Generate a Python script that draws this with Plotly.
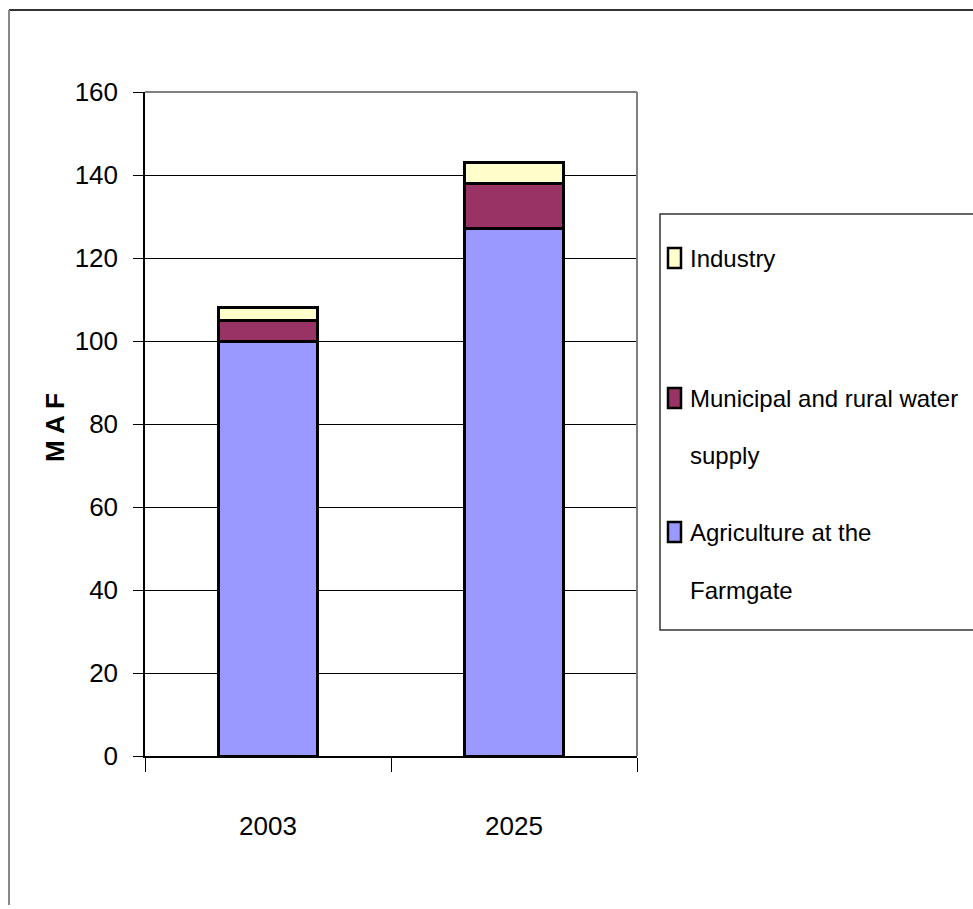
import plotly.graph_objects as go

# ---- data ----
years = ["2003", "2025"]
agriculture = [100, 127]
municipal = [5, 11]
industry = [3, 5]
series_names = ["Agriculture at the Farmgate", "Municipal and rural water supply", "Industry"]
legend_lines = [["Agriculture at the", "Farmgate"], ["Municipal and rural water", "supply"], ["Industry"]]
y_ticks = [0, 20, 40, 60, 80, 100, 120, 140, 160]
y_title = "M A F"

# ---- style ----
colors = ["#9999FF", "#993366", "#FFFFCC"]
FONT = "Liberation Sans, Arial, sans-serif"
W, H = 973, 909
L, R, T, B = 145, 637, 92, 756  # plot area in pixels


def px_x(p):
    return (p - L) / (R - L)


def px_y(p):
    return (B - p) / (B - T)


fig = go.Figure()
for vals, name, col in zip([agriculture, municipal, industry], series_names, colors):
    fig.add_trace(go.Bar(
        x=years, y=vals, name=name, width=0.4,
        marker=dict(color=col, line=dict(color="black", width=3)),
        showlegend=False,
    ))

shapes = []
annotations = []

# plot-area top and right grey border
shapes.append(dict(type="line", xref="paper", yref="paper", x0=0, x1=1, y0=1, y1=1,
                   line=dict(color="#808080", width=2)))
shapes.append(dict(type="line", xref="paper", yref="paper", x0=1, x1=1, y0=0, y1=1,
                   line=dict(color="#808080", width=2)))

# outer chart frame
shapes.append(dict(type="line", xref="paper", yref="paper", x0=px_x(9), x1=px_x(990),
                   y0=px_y(10), y1=px_y(10), line=dict(color="#333333", width=2)))
shapes.append(dict(type="line", xref="paper", yref="paper", x0=px_x(9), x1=px_x(9),
                   y0=px_y(10), y1=px_y(905), line=dict(color="#888888", width=2)))

# legend box
shapes.append(dict(type="rect", xref="paper", yref="paper", x0=px_x(660), x1=px_x(1000),
                   y0=px_y(630), y1=px_y(214), line=dict(color="#333333", width=1.5),
                   fillcolor="white"))

legend_y = {"Industry": [258], "Municipal and rural water supply": [398, 455],
            "Agriculture at the Farmgate": [532, 590]}
for name, lines, col in zip(series_names, legend_lines, colors):
    ys = legend_y[name]
    shapes.append(dict(type="rect", xref="paper", yref="paper",
                       x0=px_x(668), x1=px_x(681), y0=px_y(ys[0] + 10), y1=px_y(ys[0] - 10),
                       fillcolor=col, line=dict(color="black", width=2.5)))
    for txt, yy in zip(lines, ys):
        annotations.append(dict(text=txt, xref="paper", yref="paper", x=px_x(688), y=px_y(yy),
                                xanchor="left", yanchor="middle", showarrow=False,
                                font=dict(family=FONT, size=24, color="black")))

# y-axis title
annotations.append(dict(text="<b>" + y_title + "</b>", xref="paper", yref="paper",
                        x=px_x(55), y=px_y(428), textangle=-90, showarrow=False,
                        xanchor="center", yanchor="middle",
                        font=dict(family=FONT, size=26, color="black")))

fig.update_layout(
    width=W, height=H,
    margin=dict(l=L, r=W - R, t=T, b=H - B, autoexpand=False),
    paper_bgcolor="white", plot_bgcolor="white",
    barmode="stack", bargap=0.6,
    shapes=shapes, annotations=annotations,
    font=dict(family=FONT, size=26, color="black"),
    xaxis=dict(showline=True, linecolor="black", linewidth=1.5, ticks="outside",
               tickson="boundaries", ticklen=14, tickcolor="black", tickwidth=1,
               ticklabelstandoff=46, showgrid=False, tickfont=dict(family=FONT, size=26)),
    yaxis=dict(range=[0, 160], tickvals=y_ticks, showline=True, linecolor="black", linewidth=1.5,
               ticks="outside", ticklen=10, tickcolor="black", showgrid=True,
               gridcolor="black", gridwidth=1, zeroline=False, ticklabelstandoff=10,
               tickfont=dict(family=FONT, size=26)),
)

fig.write_html("out.html")
